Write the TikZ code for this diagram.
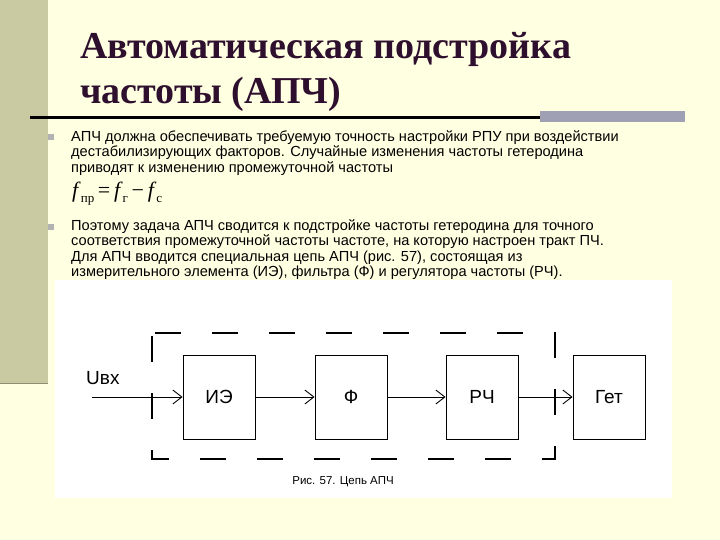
\documentclass[tikz,border=0pt]{standalone}
\usepackage{fontspec}
\setmainfont{Liberation Sans}
\newfontfamily\titlefont{Liberation Serif}
\usetikzlibrary{arrows.meta}
\definecolor{cream}{HTML}{FFFFE2}
\definecolor{olive}{HTML}{CACAA2}
\definecolor{titlec}{HTML}{2E0F2E}
\definecolor{barg}{HTML}{A0A0B4}
\newcommand{\subtx}[1]{\raisebox{-5pt}{\fontsize{13}{13}\selectfont #1}}
\tikzset{
 blk/.style={draw,line width=0.9pt,minimum width=72pt,minimum height=84pt,font=\fontsize{19}{19}\selectfont},
 con/.style={line width=0.9pt,-{Straight Barb[length=9pt,width=14pt]}},
 body/.style={anchor=north west,align=left,inner sep=0pt,font=\fontsize{14.6}{15.6}\selectfont},
 bul/.style={fill=gray!60,minimum size=6pt,inner sep=0pt}
}
\begin{document}
\begin{tikzpicture}[x=1pt,y=-1pt]
\useasboundingbox (0,0) rectangle (720,540);
\fill[cream] (0,0) rectangle (720,540);
\fill[olive] (0,0) rectangle (48,383);
\draw[olive!70!black,line width=1pt] (0,383) -- (48,383);
\node[anchor=west,text=titlec,align=left,inner sep=0pt,font=\titlefont\bfseries\fontsize{38}{45}\selectfont] (title) at (80,72) {Автоматическая подстройка\\частоты (АПЧ)};
\fill[barg] (540,111) rectangle (685,122);
\draw[line width=2.5pt] (30,117.5) -- (540,117.5);
\node[bul] (b1) at (51,137) {};
\node[bul] (b2) at (51,227) {};
\node[body] (t1) at (71,130) {АПЧ должна обеспечивать требуемую точность настройки РПУ при воздействии\\дестабилизирующих факторов. Случайные изменения частоты гетеродина\\приводят к изменению промежуточной частоты};
\node[anchor=west,inner sep=0pt,font=\titlefont\fontsize{22}{22}\selectfont] (f) at (72,194) {\textit{f}\subtx{пр}\,=\,\textit{f}\subtx{г}\,−\,\textit{f}\subtx{с}};
\node[body] (t2) at (71,219) {Поэтому задача АПЧ сводится к подстройке частоты гетеродина для точного\\соответствия промежуточной частоты частоте, на которую настроен тракт ПЧ.\\Для АПЧ вводится специальная цепь АПЧ (рис. 57), состоящая из\\измерительного элемента (ИЭ), фильтра (Ф) и регулятора частоты (РЧ).};
\fill[white] (55,280) rectangle (672,498);
\draw[line width=1.2pt,dash pattern=on 26pt off 31pt,dash phase=-3pt] (152,333) rectangle (555,459);
\node[blk] (ie) at (219,397) {ИЭ};
\node[blk] (fi) at (351,397) {Ф};
\node[blk] (rch) at (482,397) {РЧ};
\node[blk] (get) at (609,397) {Гет};
\coordinate (in) at (92,397);
\node[anchor=south west,inner sep=0pt,font=\fontsize{19}{19}\selectfont] (u) at (86,385) {Uвх};
\draw[con] (in) -- (ie);
\draw[con] (ie) -- (fi);
\draw[con] (fi) -- (rch);
\draw[con] (rch) -- (get);
\node[font=\fontsize{11.5}{11.5}\selectfont] (cap) at (343,482) {Рис. 57. Цепь АПЧ};
\end{tikzpicture}
\end{document}
